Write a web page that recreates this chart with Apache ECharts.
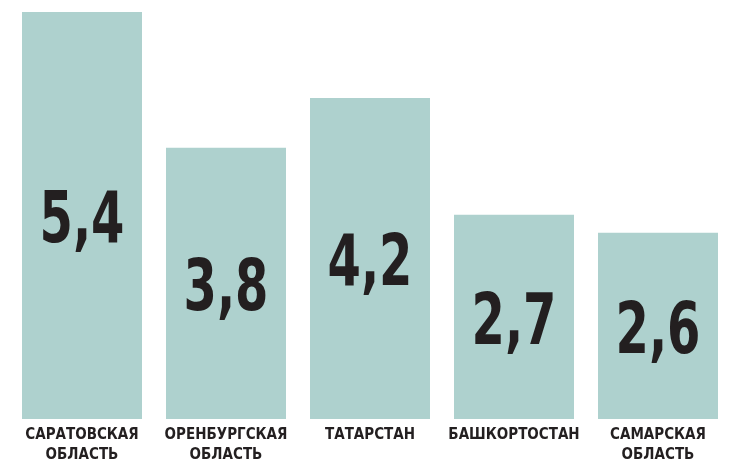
<!DOCTYPE html>
<html>
<head>
<meta charset="utf-8">
<script src="https://cdn.jsdelivr.net/npm/echarts@6/dist/echarts.min.js"></script>
<style>
    html, body { margin: 0; padding: 0; background: #fff; }
    #bars { width: 735px; height: 465px; }
</style>
</head>
<body>
<div id="bars"></div>
<script>
// регионы и значения
var regions = ['САРАТОВСКАЯ\nОБЛАСТЬ', 'ОРЕНБУРГСКАЯ\nОБЛАСТЬ', 'ТАТАРСТАН', 'БАШКОРТОСТАН', 'САМАРСКАЯ\nОБЛАСТЬ'];
var values = [5.4, 3.8, 4.2, 2.7, 2.6];          // подписи на столбиках
var barLengths = [5.4, 3.6, 4.26, 2.71, 2.47];    // высота столбиков, как нарисовано

(function(){

    var chart = echarts.init(document.getElementById('bars'));
    var font = '"DejaVu Sans Condensed", "DejaVu Sans", sans-serif';

    var option = {
        animation: false,
        grid: {
            left: 10,
            right: 5,
            top: 12,
            bottom: 46
        },
        xAxis: {
            type: 'category',
            data: regions,
            axisLine: { show: false },
            axisTick: { show: false },
            axisLabel: {
                interval: 0,
                margin: 6,
                color: '#231f20',
                fontFamily: font,
                fontWeight: 'bold',
                fontSize: 15,
                lineHeight: 20
            }
        },
        yAxis: {
            type: 'value',
            min: 0,
            max: 5.4,
            show: false
        },
        series: [
            {
                type: 'bar',
                barWidth: 120,
                itemStyle: { color: '#aed1ce' },
                data: barLengths
            },
            {
                // крупные цифры в середине столбика, сжатые по ширине
                type: 'custom',
                data: barLengths.map(function (v, i) { return [i, v]; }),
                encode: { x: 0, y: 1 },
                z: 5,
                renderItem: function (params, api) {
                    var i = params.dataIndex;
                    var top = api.coord([i, api.value(1)]);
                    var base = api.coord([i, 0]);
                    return {
                        type: 'text',
                        x: top[0],
                        y: (top[1] + base[1]) / 2 + 8,
                        scaleX: 0.74,
                        style: {
                            text: String(values[i]).replace('.', ','),
                            fill: '#231f20',
                            font: 'bold 72px ' + font,
                            align: 'center',
                            verticalAlign: 'middle'
                        }
                    };
                }
            }
        ]
    };

    chart.setOption(option);
})();
</script>
</body>
</html>
